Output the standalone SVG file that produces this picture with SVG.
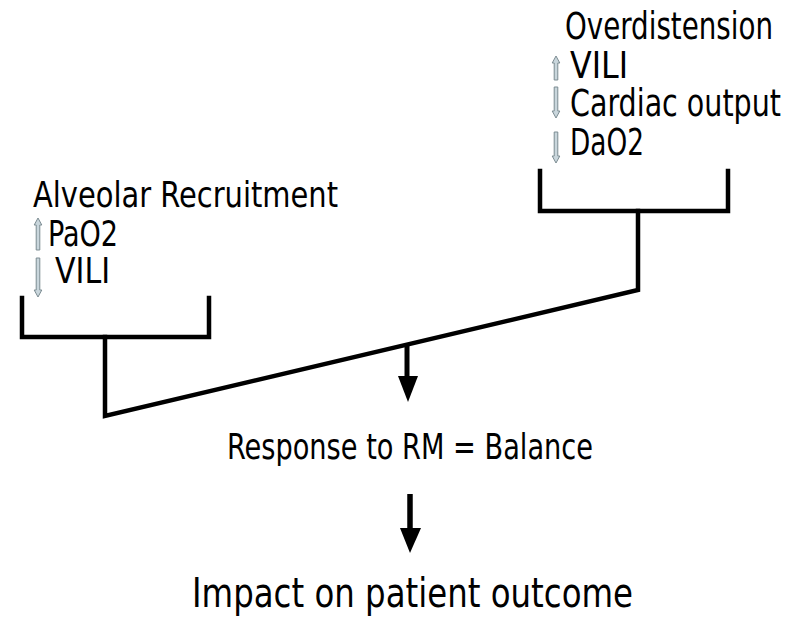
<svg xmlns="http://www.w3.org/2000/svg" width="797" height="618" viewBox="0 0 797 618">
<defs>
<style>
.t{font-family:"DejaVu Sans Condensed","DejaVu Sans","Liberation Sans",sans-serif;fill:#000;}
.ln{stroke:#000;stroke-width:4.5;fill:none;stroke-linecap:square;stroke-linejoin:miter;}
.sa{fill:#c9d6dc;stroke:#7c8c92;stroke-width:1;}
</style>
</defs>
<rect width="797" height="618" fill="#fff"/>

<g id="connectors">
<path class="ln" d="M22,298 V337 H209 V298"/>
<path class="ln" d="M540,171 V211 H728 V171"/>
<path class="ln" d="M105,337 V416 L638,290 V211"/>
<path d="M407,345 V378" stroke="#000" stroke-width="5" fill="none"/>
<path d="M398,376 L418,376 L408,402 Z" fill="#000"/>
<path d="M410,494 V530" stroke="#000" stroke-width="5.5" fill="none"/>
<path d="M400,528 L421,528 L410,553 Z" fill="#000"/>
</g>

<g id="node-recruitment">
<text class="t" x="33" y="207" font-size="35" textLength="305" lengthAdjust="spacingAndGlyphs">Alveolar Recruitment</text>
<path class="sa" d="M38,218 L41.8,225 L39.8,225 L39.8,250 L36.2,250 L36.2,225 L34.2,225 Z"/>
<text class="t" x="48" y="246" font-size="36" textLength="70" lengthAdjust="spacingAndGlyphs">PaO2</text>
<path class="sa" d="M38,297 L41.8,290 L39.8,290 L39.8,258 L36.2,258 L36.2,290 L34.2,290 Z"/>
<text class="t" x="55" y="283" font-size="36" textLength="55" lengthAdjust="spacingAndGlyphs">VILI</text>
</g>

<g id="node-overdistension">
<text class="t" x="565" y="39" font-size="37" textLength="208" lengthAdjust="spacingAndGlyphs">Overdistension</text>
<path class="sa" d="M556,56 L559.8,63 L557.8,63 L557.8,80 L554.2,80 L554.2,63 L552.2,63 Z"/>
<text class="t" x="570" y="78" font-size="37" textLength="58" lengthAdjust="spacingAndGlyphs">VILI</text>
<path class="sa" d="M556,118 L559.8,111 L557.8,111 L557.8,87 L554.2,87 L554.2,111 L552.2,111 Z"/>
<text class="t" x="570" y="116" font-size="37" textLength="211" lengthAdjust="spacingAndGlyphs">Cardiac output</text>
<path class="sa" d="M556,163 L559.8,156 L557.8,156 L557.8,132 L554.2,132 L554.2,156 L552.2,156 Z"/>
<text class="t" x="570" y="155" font-size="37" textLength="74" lengthAdjust="spacingAndGlyphs">DaO2</text>
</g>

<g id="node-balance">
<text class="t" x="227" y="459" font-size="36" textLength="366" lengthAdjust="spacingAndGlyphs">Response to RM = Balance</text>
</g>

<g id="node-outcome">
<text class="t" x="192" y="607" font-size="40" textLength="441" lengthAdjust="spacingAndGlyphs">Impact on patient outcome</text>
</g>
</svg>
